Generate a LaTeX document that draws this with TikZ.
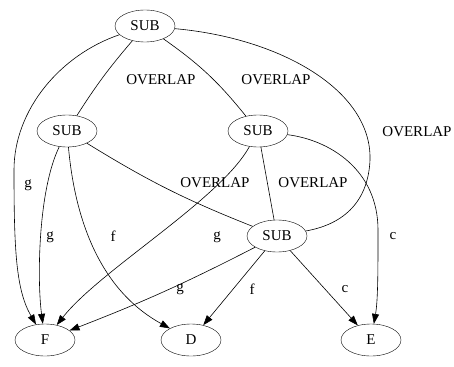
\documentclass[tikz,border=0pt]{standalone}
\usepackage{fontspec}
\setmainfont{Liberation Serif}
\usetikzlibrary{shapes.geometric,arrows.meta}
\begin{document}
\begin{tikzpicture}[x=1pt,y=-1pt,
  vtx/.style={draw,ellipse,minimum width=60pt,minimum height=32pt,inner sep=0pt,font=\fontsize{15}{18}\selectfont},
  lbl/.style={inner sep=0pt,font=\fontsize{15}{18}\selectfont},
  edge/.style={line width=0.6pt},
  arc/.style={edge,-{Triangle[length=10pt,width=7pt]}}]
\useasboundingbox (0,0) rectangle (454,366);
% vertices
\node[vtx] (s0) at (145,26) {SUB};
\node[vtx] (s1) at (67,131) {SUB};
\node[vtx] (s2) at (258,131) {SUB};
\node[vtx] (s3) at (277,236) {SUB};
\node[vtx] (f) at (45,340) {F};
\node[vtx] (d) at (191,340) {D};
\node[vtx] (e) at (371,340) {E};
% undirected overlap links
\draw[edge] (s0) to[bend right=4] (s1);
\draw[edge] (s0) to[bend left=8] (s2);
\draw[edge] (s0) .. controls (280,38) and (372,90) .. (370,160) .. controls (368,205) and (340,225) .. (s3);
\draw[edge] (s1) to[bend right=5] (s3);
\draw[edge] (s2) -- (s3);
% directed arcs
\draw[arc] (s0) .. controls (60,55) and (14,110) .. (14,170) .. controls (14,250) and (16,290) .. (f);
\draw[arc] (s1) .. controls (38,190) and (37,280) .. (f);
\draw[arc] (s1) .. controls (75,220) and (100,290) .. (d);
\draw[arc] (s2) .. controls (220,200) and (100,270) .. (f);
\draw[arc] (s2) .. controls (330,140) and (378,170) .. (378,230) .. controls (378,270) and (378,300) .. (e);
\draw[arc] (s3) to[bend left=3] (f);
\draw[arc] (s3) -- (d);
\draw[arc] (s3) -- (e);
% labels
\node[lbl] (l1) at (161,80) {OVERLAP};
\node[lbl] (l2) at (276,80) {OVERLAP};
\node[lbl] (l3) at (417,132) {OVERLAP};
\node[lbl] (l4) at (215,183) {OVERLAP};
\node[lbl] (l5) at (313,183) {OVERLAP};
\node[lbl] (l6) at (28,185) {g};
\node[lbl] (l7) at (50,237) {g};
\node[lbl] (l8) at (113,236) {f};
\node[lbl] (l9) at (217,237) {g};
\node[lbl] (l10) at (393,236) {c};
\node[lbl] (l11) at (180,289) {g};
\node[lbl] (l12) at (252,289) {f};
\node[lbl] (l13) at (345,289) {c};
\end{tikzpicture}
\end{document}
